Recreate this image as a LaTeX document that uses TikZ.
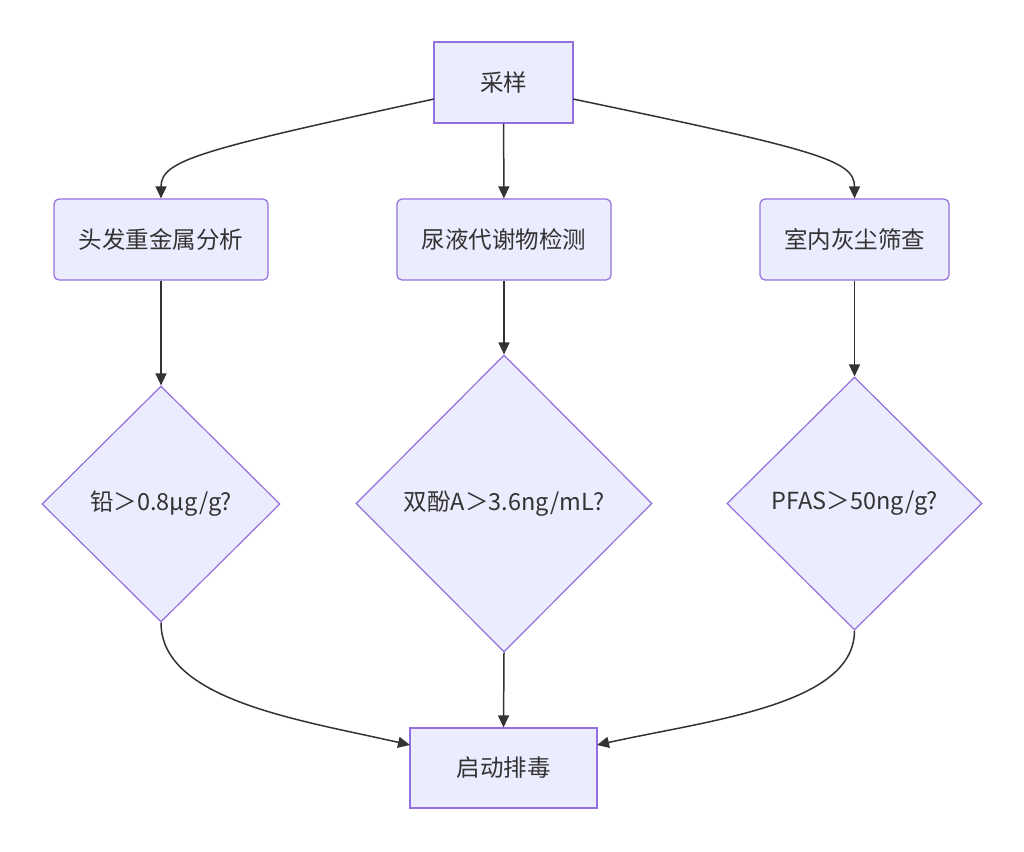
\documentclass[tikz,border=0pt]{standalone}
\usepackage{fontspec}
\setmainfont{Noto Sans CJK SC}
\usetikzlibrary{shapes.geometric,arrows.meta}
\definecolor{boxfill}{HTML}{ECECFF}
\definecolor{boxline}{HTML}{9370DB}
\definecolor{ink}{HTML}{333333}
\tikzset{
  box/.style={draw=boxline,fill=boxfill,line width=1.2pt,text=ink,font=\fontsize{23.5}{28}\selectfont},
  check/.style={box,diamond,inner sep=0pt},
  flow/.style={draw=ink,line width=1.5pt,-{Triangle[length=12pt,width=11pt]}}
}
\begin{document}
\begin{tikzpicture}[x=1pt,y=-1pt]
    \useasboundingbox(0,0) rectangle (1024,851);
    % first step
    \node[box,minimum width=139pt,minimum height=81pt](sample) at (503.5,82.5) {采样};
    % three tests
    \node[box,rounded corners=5pt,minimum width=214pt,minimum height=81pt](hair) at (161,239.5) {头发重金属分析};
    \node[box,rounded corners=5pt,minimum width=214pt,minimum height=81pt](urine) at (504,239.5) {尿液代谢物检测};
    \node[box,rounded corners=5pt,minimum width=189pt,minimum height=81pt](dust) at (854.5,239.5) {室内灰尘筛查};
    % limits
    \node[check,minimum width=238pt,minimum height=236pt](lead) at (161,504) {铅＞0.8μg/g?};
    \node[check,minimum width=296pt,minimum height=297pt](bpa) at (504,503.5) {双酚A＞3.6ng/mL?};
    \node[check,minimum width=255pt,minimum height=253pt](pfas) at (854.5,503.5) {PFAS＞50ng/g?};
    % last step
    \node[box,minimum width=187pt,minimum height=80pt](detox) at (503.5,768) {启动排毒};
    \coordinate(sampleL) at (434,99);
    \coordinate(sampleR) at (573,99);
    \coordinate(detoxL) at (410,745);
    \coordinate(detoxR) at (597,745);
    \draw[flow](sampleL) .. controls (200,150) and (161,160) .. (hair.north);
    \draw[flow](sample) -- (urine);
    \draw[flow](sampleR) .. controls (817,150) and (854.5,160) .. (dust.north);
    \foreach \a/\b in {hair/lead,urine/bpa,dust/pfas,bpa/detox}{
      \draw[flow](\a.south) -- (\b.north);
    }
    \draw[flow](lead.south) .. controls (161,700) and (300,720) .. (detoxL);
    \draw[flow](pfas.south) .. controls (854.5,705) and (710,720) .. (detoxR);
  \end{tikzpicture}
\end{document}
